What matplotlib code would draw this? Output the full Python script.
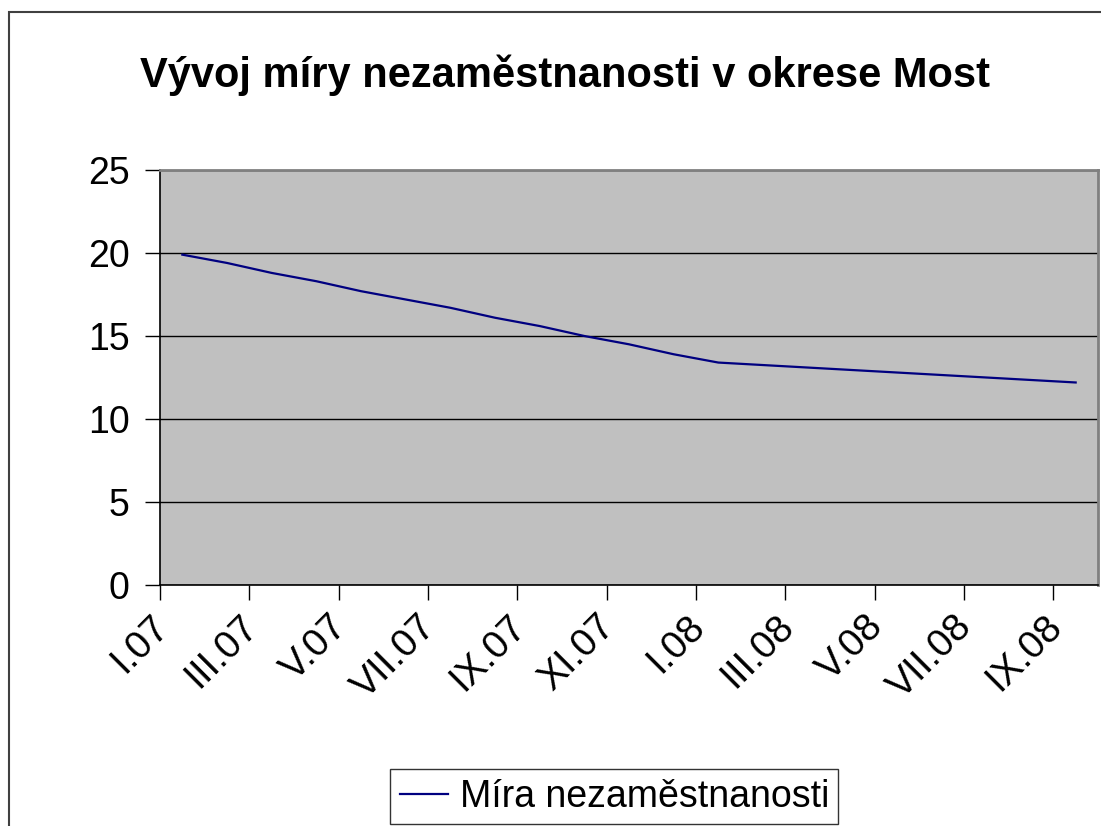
import numpy as np
import matplotlib
matplotlib.use("Agg")
import matplotlib.pyplot as plt
from matplotlib.patches import Rectangle

# monthly unemployment rate, district Most (I.07 .. IX.08)
months = ['I.07', 'II.07', 'III.07', 'IV.07', 'V.07', 'VI.07', 'VII.07',
          'VIII.07', 'IX.07', 'X.07', 'XI.07', 'XII.07', 'I.08', 'II.08',
          'III.08', 'IV.08', 'V.08', 'VI.08', 'VII.08', 'VIII.08', 'IX.08']
rate = [19.9, 19.4, 18.8, 18.3, 17.7, 17.2, 16.7, 16.1, 15.6, 15.0, 14.5,
        13.9, 13.4, 13.25, 13.1, 12.95, 12.8, 12.65, 12.5, 12.35, 12.2]
shown_labels = ['I.07', 'III.07', 'V.07', 'VII.07', 'IX.07', 'XI.07',
                'I.08', 'III.08', 'V.08', 'VII.08', 'IX.08']
y_ticks = [0, 5, 10, 15, 20, 25]

plt.rcParams['font.family'] = ['Liberation Sans', 'DejaVu Sans']

fig = plt.figure(figsize=(11.01, 8.26), dpi=100)
ax = fig.add_axes([160/1101, 1-585/826, 938/1101, 415/826])

# outer chart border (cut off at right and bottom like the source)
fig.patches.append(Rectangle((9/1101, -0.05), 1.2, 1-12/826+0.05,
                             transform=fig.transFigure, fill=False,
                             edgecolor='#404040', linewidth=1.5))

x = np.arange(len(months))
ax.set_facecolor('#C0C0C0')
ax.plot(x, rate, color='#000080', linewidth=1.6, label='Míra nezaměstnanosti',
        zorder=3)

ax.set_xlim(-0.5, len(months) - 0.5)
ax.set_ylim(0, 25)
ax.set_yticks(y_ticks)
ax.yaxis.grid(True, color='black', linewidth=1)
ax.set_axisbelow(True)

# tick marks between categories, a label every second month
bounds = np.arange(0, len(months), 2) - 0.5
ax.set_xticks(bounds)
ax.set_xticklabels([])
ax.set_xticks(bounds + 0.06, minor=True)
ax.set_xticklabels(shown_labels, minor=True, rotation=45, ha='right',
                   va='center', rotation_mode='anchor')

ax.tick_params(axis='both', direction='out', length=11, width=1,
               color='black', labelsize=27)
ax.tick_params(axis='y', pad=11)
ax.tick_params(axis='x', which='minor', length=0, pad=26, labelsize=28)

for side in ['top', 'right']:
    ax.spines[side].set_color('#808080')
    ax.spines[side].set_linewidth(2)
for side in ['left', 'bottom']:
    ax.spines[side].set_color('black')
    ax.spines[side].set_linewidth(1.2)

fig.text(0.513, 1-75/826, 'Vývoj míry nezaměstnanosti v okrese Most',
         ha='center', va='center', fontsize=30, fontweight='bold')

leg = ax.legend(loc='lower center', bbox_to_anchor=(0.558, 0.0),
                bbox_transform=fig.transFigure, fontsize=27, frameon=True,
                fancybox=False, handlelength=1.3, handletextpad=0.3,
                borderpad=0.25, borderaxespad=0.05)
leg.get_frame().set_edgecolor('black')
leg.get_frame().set_linewidth(1)

fig.savefig('out.png', dpi=100)
